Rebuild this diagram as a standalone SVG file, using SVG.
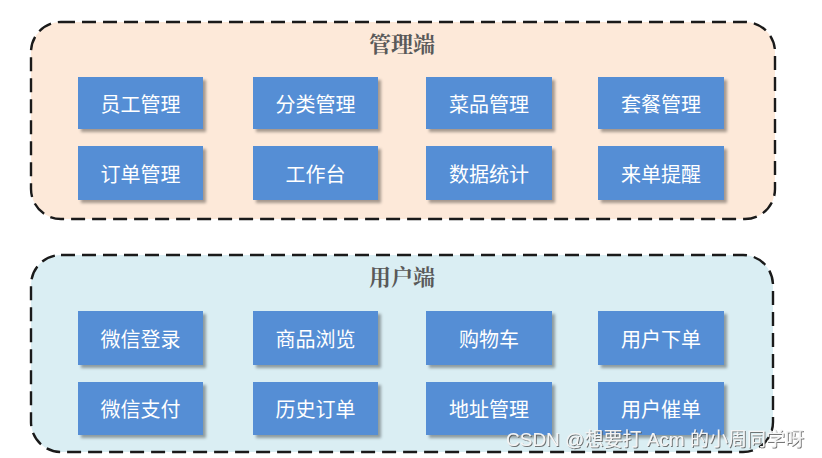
<svg xmlns="http://www.w3.org/2000/svg" width="822" height="458" viewBox="0 0 822 458">
<defs>
<filter id="sh" x="-10%" y="-10%" width="130%" height="140%">
<feDropShadow dx="3" dy="3" stdDeviation="1.5" flood-color="#000" flood-opacity="0.35"/>
</filter>
<filter id="ts" x="-5%" y="-30%" width="110%" height="160%">
<feDropShadow dx="1" dy="1" stdDeviation="0.6" flood-color="#555" flood-opacity="0.8"/>
</filter>
<style>
.grp{stroke:#1a1a1a;stroke-width:2.4;stroke-dasharray:14 7}
.box{fill:#558ED5;filter:url(#sh)}
.lbl{fill:#fff;font-family:"Noto Sans CJK SC","Noto Sans",sans-serif;font-size:20px;text-anchor:middle;dominant-baseline:central}
.ttl{fill:#595959;font-family:"Noto Serif CJK SC","Noto Sans CJK SC",serif;font-size:22px;font-weight:bold;text-anchor:middle}
.wm{fill:#f4f4f4;font-family:"Liberation Sans","Noto Sans CJK SC",sans-serif;font-size:19px;filter:url(#ts)}
</style>
</defs>
<rect width="822" height="458" fill="#fff"/>
<g id="admin">
<rect class="grp" x="31" y="22" width="744" height="197" rx="30" fill="#FDE9D9"/>
<text class="ttl" x="402" y="52">管理端</text>
</g>
<g id="user">
<rect class="grp" x="31" y="255" width="742" height="197" rx="30" fill="#DAEEF3"/>
<text class="ttl" x="402" y="285">用户端</text>
</g>
<g id="n1"><rect class="box" x="78" y="77" width="125" height="52"/><text class="lbl" x="140.5" y="103">员工管理</text></g>
<g id="n2"><rect class="box" x="253" y="77" width="125" height="52"/><text class="lbl" x="315.5" y="103">分类管理</text></g>
<g id="n3"><rect class="box" x="426" y="77" width="126" height="52"/><text class="lbl" x="489" y="103">菜品管理</text></g>
<g id="n4"><rect class="box" x="598" y="77" width="126" height="52"/><text class="lbl" x="661" y="103">套餐管理</text></g>
<g id="n5"><rect class="box" x="78" y="146" width="125" height="54"/><text class="lbl" x="140.5" y="173">订单管理</text></g>
<g id="n6"><rect class="box" x="253" y="146" width="125" height="54"/><text class="lbl" x="315.5" y="173">工作台</text></g>
<g id="n7"><rect class="box" x="426" y="146" width="126" height="54"/><text class="lbl" x="489" y="173">数据统计</text></g>
<g id="n8"><rect class="box" x="598" y="146" width="126" height="54"/><text class="lbl" x="661" y="173">来单提醒</text></g>
<g id="n9"><rect class="box" x="78" y="311" width="125" height="54"/><text class="lbl" x="140.5" y="338">微信登录</text></g>
<g id="n10"><rect class="box" x="253" y="311" width="125" height="54"/><text class="lbl" x="315.5" y="338">商品浏览</text></g>
<g id="n11"><rect class="box" x="426" y="311" width="126" height="54"/><text class="lbl" x="489" y="338">购物车</text></g>
<g id="n12"><rect class="box" x="598" y="311" width="126" height="54"/><text class="lbl" x="661" y="338">用户下单</text></g>
<g id="n13"><rect class="box" x="78" y="382" width="125" height="53"/><text class="lbl" x="140.5" y="408.5">微信支付</text></g>
<g id="n14"><rect class="box" x="253" y="382" width="125" height="53"/><text class="lbl" x="315.5" y="408.5">历史订单</text></g>
<g id="n15"><rect class="box" x="426" y="382" width="126" height="53"/><text class="lbl" x="489" y="408.5">地址管理</text></g>
<g id="n16"><rect class="box" x="598" y="382" width="126" height="53"/><text class="lbl" x="661" y="408.5">用户催单</text></g>
<g id="connectors"></g>
<text class="wm" x="506" y="446">CSDN @想要打 Acm 的小周同学呀</text>
</svg>
